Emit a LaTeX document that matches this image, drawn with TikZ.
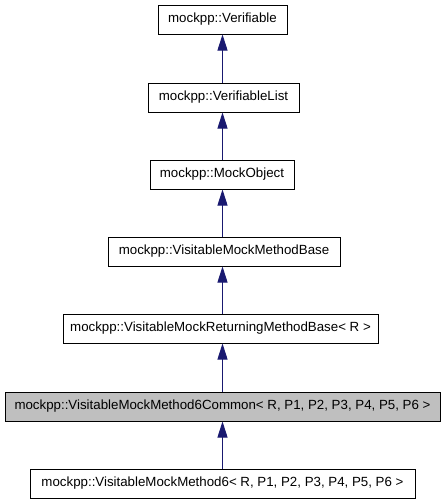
\documentclass[tikz,border=0pt]{standalone}
\usepackage{fontspec}
\setmainfont{Liberation Sans}
\usetikzlibrary{arrows.meta}
\definecolor{edgeblue}{HTML}{191970}
\definecolor{hlgray}{HTML}{BFBFBF}
\begin{document}
\begin{tikzpicture}[x=1pt,y=-1pt,
  cls/.style={draw=black,line width=1pt,fill=white,minimum height=29pt,inner sep=0pt,font=\fontsize{13.3}{16}\selectfont},
  inh/.style={draw=edgeblue,line width=1pt,-{Triangle[width=10pt,length=16pt]}}]
\useasboundingbox (0,0) rectangle (445,504);
\node[cls,minimum width=129pt] (v) at (222.5,19.5) {mockpp::Verifiable};
\node[cls,minimum width=151pt] (vl) at (223.5,97.5) {mockpp::VerifiableList};
\node[cls,minimum width=144pt] (mo) at (222,174.5) {mockpp::MockObject};
\node[cls,minimum width=232pt] (vb) at (224,251.5) {mockpp::VisitableMockMethodBase};
\node[cls,minimum width=315pt] (rb) at (220.5,328.5) {mockpp::VisitableMockReturningMethodBase< R >};
\node[cls,fill=hlgray,minimum width=435pt] (c6) at (222.5,406.5) {mockpp::VisitableMockMethod6Common< R, P1, P2, P3, P4, P5, P6 >};
\node[cls,minimum width=385pt] (m6) at (222.5,483.5) {mockpp::VisitableMockMethod6< R, P1, P2, P3, P4, P5, P6 >};
\draw[inh] (vl.north -| v.south) -- (v.south);
\draw[inh] (mo.north -| v.south) -- (vl.south -| v.south);
\draw[inh] (vb.north -| v.south) -- (mo.south -| v.south);
\draw[inh] (rb.north -| v.south) -- (vb.south -| v.south);
\draw[inh] (c6.north -| v.south) -- (rb.south -| v.south);
\draw[inh] (m6.north -| v.south) -- (c6.south -| v.south);
\end{tikzpicture}
\end{document}
